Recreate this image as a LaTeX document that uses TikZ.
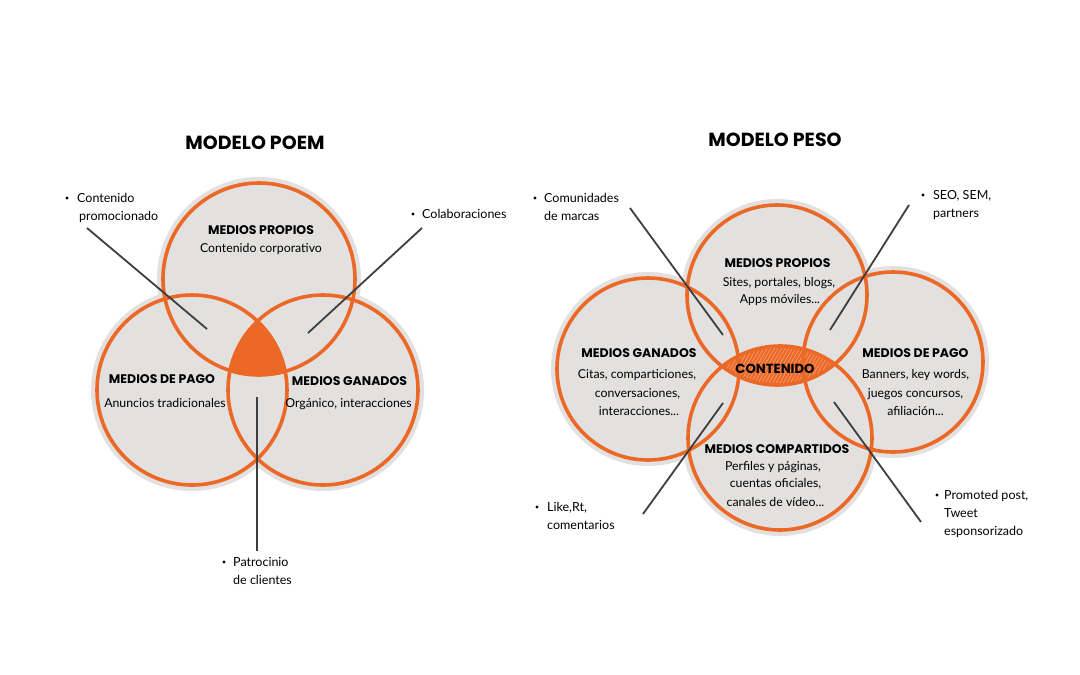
\documentclass[tikz,border=0pt]{standalone}
\usepackage{fontspec}
\setmainfont{Lato}
\newfontfamily\headfont{Poppins}
\definecolor{orng}{RGB}{236,104,38}
\definecolor{halo}{RGB}{226,225,224}
\definecolor{lin}{RGB}{62,62,62}
\begin{document}
\begin{tikzpicture}[x=1pt,y=-1pt,
  ring/.style={draw=orng,line width=3.6pt},
  haloc/.style={fill=halo},
  title/.style={font=\headfont\bfseries\fontsize{19}{22}\selectfont,inner sep=0pt,anchor=base},
  head/.style={font=\headfont\bfseries\fontsize{12.5}{14}\selectfont,inner sep=0pt,anchor=base},
  body/.style={font=\fontsize{12.3}{15}\selectfont,inner sep=0pt,anchor=base},
  callout/.style={font=\fontsize{12.5}{15}\selectfont,inner sep=0pt,anchor=base west},
  leader/.style={draw=lin,line width=1.8pt},
  bul/.style={fill=black},
]
\useasboundingbox (0,0) rectangle (1080,675);
\fill[white] (0,0) rectangle (1080,675);

% ================= MODELO POEM =================
\coordinate (T) at (259,279);
\coordinate (L) at (192,390);
\coordinate (R) at (323,390);
\fill[haloc] (T) circle (102);
\fill[haloc] (L) circle (101);
\fill[haloc] (R) circle (101);
\begin{scope}
  \clip (T) circle (96);
  \clip (L) circle (95);
  \fill[orng] (R) circle (95);
\end{scope}
\draw[ring] (T) circle (96);
\draw[ring] (L) circle (95);
\draw[ring] (R) circle (95);

\node[title] (poem) at (255,149) {MODELO POEM};
\node[head] (pp1) at (261,234.5) {MEDIOS PROPIOS};
\node[body] (pp2) at (261,252) {Contenido corporativo};
\node[head] (pg1) at (162,383.5) {MEDIOS DE PAGO};
\node[body] (pg2) at (165,407) {Anuncios tradicionales};
\node[head] (mg1) at (349.5,385.5) {MEDIOS GANADOS};
\node[body] (mg2) at (348.5,407) {Orgánico, interacciones};

% callouts
\fill[bul] (67,198) circle (1.6);
\node[callout] (c1a) at (77,202) {Contenido};
\node[callout] (c1b) at (79,220) {promocionado};
\fill[bul] (413,214) circle (1.6);
\node[callout] (c2a) at (422,218) {Colaboraciones};
\fill[bul] (224,562) circle (1.6);
\node[callout] (c3a) at (233,566) {Patrocinio};
\node[callout] (c3b) at (233,584) {de clientes};

\coordinate (a1) at (87,228);  \coordinate (b1) at (207,329);
\coordinate (a2) at (422,228); \coordinate (b2) at (308,333);
\coordinate (a3) at (257,397); \coordinate (b3) at (257,551);
\draw[leader] (a1) -- (b1);
\draw[leader] (a2) -- (b2);
\draw[leader] (a3) -- (b3);

% ================= MODELO PESO =================
\coordinate (P) at (777,295);
\coordinate (G) at (648,369);
\coordinate (D) at (893,362);
\coordinate (C) at (780,438);
\fill[haloc] (P) circle (96);
\fill[haloc] (G) circle (97);
\fill[haloc] (D) circle (96);
\fill[haloc] (C) circle (98);
\begin{scope}
  \clip (P) circle (90);
  \clip (C) circle (92);
  \fill[orng] (700,330) rectangle (860,400);
  \foreach \k in {0,...,60} {
    \draw[white,opacity=0.45,line width=0.5pt] (680+3.6*\k,400) -- (720+3.6*\k,330);
  }
\end{scope}
\draw[ring] (P) circle (90);
\draw[ring] (G) circle (91);
\draw[ring] (D) circle (90);
\draw[ring] (C) circle (92);

\node[title] (peso) at (775,146) {MODELO PESO};
\node[head] (q1) at (777.5,267.5) {MEDIOS PROPIOS};
\node[body] (q2) at (779,286) {Sites, portales, blogs,};
\node[body] (q3) at (780,303.5) {Apps móviles...};
\node[head] (g1) at (639,357.5) {MEDIOS GANADOS};
\node[body] (g2) at (637,378) {Citas, comparticiones,};
\node[body] (g3) at (637.5,397) {conversaciones,};
\node[body] (g4) at (639,415) {interacciones...};
\node[head] (d1) at (915.5,357.5) {MEDIOS DE PAGO};
\node[body] (d2) at (915.5,378) {Banners, key words,};
\node[body] (d3) at (915.5,397) {juegos concursos,};
\node[body] (d4) at (915.5,415) {afiliación...};
\node[head] (s1) at (777,453.5) {MEDIOS COMPARTIDOS};
\node[body] (s2) at (773,470) {Perfiles y páginas,};
\node[body] (s3) at (775.5,487) {cuentas oficiales,};
\node[body] (s4) at (775.5,506) {canales de vídeo...};
\node[head,font=\headfont\bfseries\fontsize{13.2}{15}\selectfont] (cont) at (775,373) {CONTENIDO};

% callouts
\fill[bul] (535,198) circle (1.6);
\node[callout] (e1a) at (544,202) {Comunidades};
\node[callout] (e1b) at (544,220) {de marcas};
\fill[bul] (923,195) circle (1.6);
\node[callout] (e2a) at (933,199) {SEO, SEM,};
\node[callout] (e2b) at (933,217) {partners};
\fill[bul] (537,507) circle (1.6);
\node[callout] (e3a) at (547,511) {Like,Rt,};
\node[callout] (e3b) at (547,529) {comentarios};
\fill[bul] (937,495) circle (1.6);
\node[callout] (e4a) at (944,499) {Promoted post,};
\node[callout] (e4b) at (944,517) {Tweet};
\node[callout] (e4c) at (944,535) {esponsorizado};

\coordinate (f1) at (630,208); \coordinate (h1) at (723,335);
\coordinate (f2) at (909,205); \coordinate (h2) at (830,330);
\coordinate (f3) at (643,514); \coordinate (h3) at (723,403);
\coordinate (f4) at (921,522); \coordinate (h4) at (834,402);
\draw[leader] (f1) -- (h1);
\draw[leader] (f2) -- (h2);
\draw[leader] (f3) -- (h3);
\draw[leader] (f4) -- (h4);
\end{tikzpicture}
\end{document}
